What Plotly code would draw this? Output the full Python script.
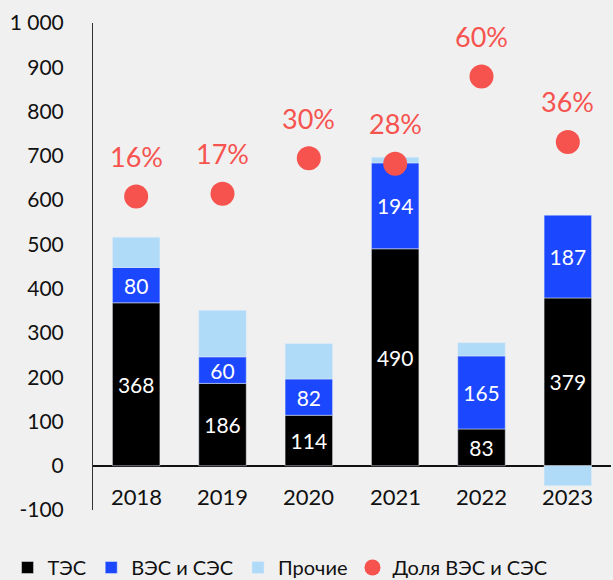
import plotly.graph_objects as go

years = ["2018", "2019", "2020", "2021", "2022", "2023"]
tes = [368, 186, 114, 490, 83, 379]
ves_ses = [80, 60, 82, 194, 165, 187]
other = [68, 105, 80, 13, 30, -45]
share = [16, 17, 30, 28, 60, 36]
y_ticks = [-100, 0, 100, 200, 300, 400, 500, 600, 700, 800, 900, 1000]
y_tick_text = ["-100", "0", "100", "200", "300", "400", "500", "600",
               "700", "800", "900", "1 000"]

FONT = "Lato"
RED = "#F6534F"
INK = "#111111"

fig = go.Figure()

for vals, name, color in [(tes, "ТЭС", "#000000"),
                          (ves_ses, "ВЭС и СЭС", "#1B47FF")]:
    fig.add_trace(go.Bar(
        x=years, y=vals, name=name, marker_color=color,
        text=vals, textposition="inside", insidetextanchor="middle",
        textangle=0, constraintext="none",
        textfont=dict(color="white", size=21)))
fig.add_trace(go.Bar(
    x=years, y=other, name="Прочие", marker_color="#AFDAF8",
    textposition="none"))
fig.add_trace(go.Scatter(
    x=years, y=share, name="Доля ВЭС и СЭС", yaxis="y2", mode="markers",
    marker=dict(color=RED, size=24)))

# percentage labels above the dots (category index as x)
for i, s in enumerate(share):
    fig.add_annotation(x=i, y=s, yref="y2", text=f"{s}%", showarrow=False,
                       yshift=40, font=dict(color=RED, size=27, family=FONT))

# year labels sit inside the plot, just under the zero line
for i, yr in enumerate(years):
    fig.add_annotation(x=i, y=-70, text=yr, showarrow=False,
                       font=dict(color=INK, size=22, family=FONT))

fig.update_layout(
    width=613, height=580,
    barmode="relative", bargap=0.45,
    paper_bgcolor="#F0F0F0", plot_bgcolor="#F0F0F0",
    font=dict(family=FONT, size=21, color=INK),
    margin=dict(l=93, r=2, t=23, b=70, autoexpand=False),
    showlegend=True,
    legend=dict(orientation="h", x=-0.165, xanchor="left",
                y=-0.078, yanchor="top",
                font=dict(size=20), itemwidth=30, traceorder="normal"),
    xaxis=dict(type="category", showticklabels=False, showgrid=False,
               showline=False, ticks="", automargin=False),
    yaxis=dict(range=[-100, 1000], tickvals=y_ticks, ticktext=y_tick_text,
               showgrid=False, showline=True, linecolor="#333333",
               linewidth=1, zeroline=True, zerolinecolor=INK,
               zerolinewidth=1.5, ticks="", ticklabelstandoff=24,
               automargin=False),
    yaxis2=dict(overlaying="y", range=[-98.9, 79.6], visible=False),
)

# drop the browser's default body margin so the figure fills the window
fig.write_html("out.html", config={"displayModeBar": False},
               post_script="document.body.style.margin='0';"
                           "document.body.style.background='#F0F0F0';")
